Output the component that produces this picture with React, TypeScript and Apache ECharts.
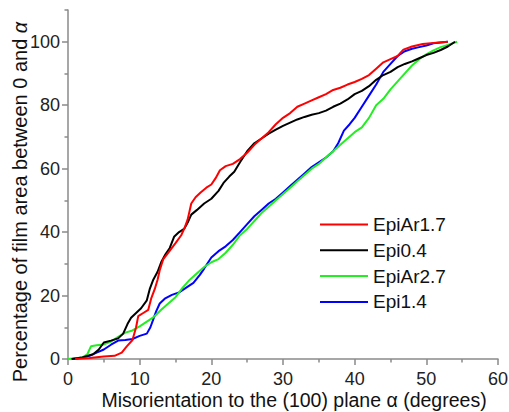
import React, { useEffect, useRef } from "react";
import * as echarts from "echarts";

const seriesNames = ["EpiAr1.7", "Epi0.4", "EpiAr2.7", "Epi1.4"];
const seriesColors = ["#ff0000", "#000000", "#22ee22", "#0000ff"];

const red: [number, number][] = [
  [1, 0], [3, 0.3], [5, 0.8], [6.5, 1], [7.5, 2], [8.2, 4], [9, 6], [9.5, 10], [9.8, 13.5],
  [10.5, 14.5], [11.2, 15.5], [11.6, 19], [12.1, 22], [12.5, 25], [12.8, 28], [13.3, 31.5],
  [14, 33.5], [15, 36.5], [15.8, 39], [16.3, 41.5], [16.7, 44], [17.2, 49], [17.8, 51],
  [18.5, 52.5], [19.3, 54], [20, 55], [20.6, 57], [21.2, 59.5], [22, 60.8], [23, 61.5],
  [24, 63], [25, 65], [26, 67.5], [27, 69.5], [28, 71.5], [29, 74], [30, 76], [31, 77.5],
  [32, 79.5], [33, 80.5], [34, 81.5], [35, 82.5], [36, 83.5], [37, 84.8], [38, 85.5],
  [39, 86.5], [40, 87.3], [41, 88.3], [42, 89.5], [43, 91.5], [44, 93.5], [45, 94.5],
  [46, 95.5], [46.8, 97.5], [48, 98.5], [49.5, 99.3], [51, 99.6], [53, 100],
];

const black: [number, number][] = [
  [0.5, 0], [2, 0.5], [3.5, 1.5], [4.3, 3], [5, 5.2], [6, 5.8], [7, 6.5], [7.7, 8], [8.3, 11],
  [8.8, 13], [9.5, 14.5], [10.2, 16], [11, 18.5], [11.4, 22], [11.9, 25], [12.5, 27.5],
  [13, 30.5], [13.6, 33], [14.2, 35], [14.8, 38.5], [15.5, 40], [16.2, 41], [16.7, 43],
  [17.2, 45.5], [18, 47], [19, 49], [20, 50.5], [21, 53], [21.7, 55.5], [22.5, 57.5],
  [23.2, 59], [24, 62], [25, 65.5], [26, 68], [27, 69.5], [28, 71], [29, 72.3], [30, 73.5],
  [31, 74.5], [32, 75.5], [33, 76.3], [34, 77], [35, 77.5], [36, 78.3], [37, 79.5],
  [38, 80.5], [39, 81.8], [40, 83.5], [41, 84.5], [42, 86], [43, 88], [44, 89.5], [45, 90.5],
  [46, 92], [47, 93], [48, 93.8], [49, 94.8], [50, 95.8], [51, 96.5], [52, 97.4], [53, 98.5],
  [54, 100],
];

const green: [number, number][] = [
  [0, 0], [2, 0.5], [2.7, 1.5], [3.2, 4], [4, 4.3], [5, 4.6], [6, 5.5], [7, 7], [8, 8.3],
  [9, 9], [10, 10.3], [11, 11.8], [12, 13.3], [13, 15.5], [14, 17.5], [15, 19.5], [16, 22.5],
  [17, 25], [18, 27], [19, 29], [20, 30.5], [21, 31.5], [22, 33.5], [23, 36], [24, 39],
  [25, 41], [26, 43.5], [27, 46], [28, 48], [29, 50], [30, 52], [31, 54], [32, 56], [33, 58],
  [34, 60], [35, 61.5], [36, 63.5], [37, 65.5], [38, 67.5], [39, 69.5], [40, 71.5], [41, 73],
  [42, 76], [43, 80], [44, 82], [45, 85], [46, 87.5], [47, 90], [48, 92.5], [49, 94.5],
  [50, 96], [51, 97.3], [52, 98.3], [53, 99], [54.3, 100],
];

const blue: [number, number][] = [
  [0.7, 0], [2, 0.5], [3, 1], [4, 2], [5, 3], [6, 4.5], [7, 5.8], [8, 6], [9, 6.3], [10, 7.3],
  [11, 8], [11.5, 10], [11.9, 12.5], [12.3, 15], [12.8, 17.5], [13.5, 19], [14.5, 20.2],
  [15.5, 21], [16.5, 22.5], [17.5, 24], [18.4, 26.5], [19, 28.5], [20, 32], [21, 34],
  [22, 35.5], [23, 37.5], [24, 40], [25, 42.5], [26, 45], [27, 47], [28, 49], [29, 50.5],
  [30, 52.5], [31, 54.5], [32, 56.5], [33, 58.5], [34, 60.5], [35, 62], [36, 63.5],
  [37, 65.5], [37.7, 68], [38.5, 72], [39.3, 74], [40, 76], [41, 79.5], [42, 83],
  [43, 86.5], [44, 90.5], [45, 93], [46, 95.5], [47, 97], [48, 97.8], [49, 98.3],
  [50, 98.8], [51, 99.5], [53, 100],
];

const seriesData = [red, black, green, blue];

const xMajorTicks = [0, 10, 20, 30, 40, 50, 60];
const yMajorTicks = [0, 20, 40, 60, 80, 100];
const yMinorTicks = [10, 30, 50, 70, 90, 110];

const xTitle = "Misorientation to the (100) plane α (degrees)";
const yTitle = "Percentage of film area between 0 and ";

export default function App() {
  const ref = useRef<HTMLDivElement>(null);
  useEffect(() => {
    if (!ref.current) return;
    const chart = echarts.init(ref.current, undefined, { renderer: "svg" });
    const font = "Liberation Sans, Arial, sans-serif";
    const axisGray = "#8a8a8a";
    chart.setOption({
      animation: false,
      backgroundColor: "#ffffff",
      grid: {
        left: 68,
        right: 11,
        top: 10,
        bottom: 53,
        containLabel: false,
        outerBoundsMode: "none",
      },
      legend: {
        orient: "vertical",
        left: 320,
        top: 215,
        padding: 0,
        itemWidth: 48,
        itemHeight: 14,
        itemGap: 6.8,
        data: seriesNames.map((n, i) => ({
          name: n,
          icon: "path://M0,6.5 L48,6.5 L48,8.5 L0,8.5 Z",
          itemStyle: { color: seriesColors[i] },
        })),
        textStyle: { fontFamily: font, fontSize: 19, color: "#111" },
      },
      xAxis: {
        type: "value",
        min: 0,
        max: 60,
        interval: 10,
        axisLine: { lineStyle: { color: axisGray, width: 1.5 } },
        axisTick: { length: 6, lineStyle: { color: axisGray, width: 1.5 } },
        minorTick: { show: true, splitNumber: 2, length: 3.5, lineStyle: { color: axisGray, width: 1.5 } },
        axisLabel: {
          fontFamily: font,
          fontSize: 18,
          color: "#222",
          margin: 11,
          customValues: xMajorTicks,
        },
        splitLine: { show: false },
      },
      yAxis: [
        {
          type: "value",
          min: 0,
          max: 110,
          interval: 10,
          axisLine: { show: true, lineStyle: { color: axisGray, width: 1.5 } },
          axisTick: { show: true, length: 6, customValues: yMajorTicks, lineStyle: { color: axisGray, width: 1.5 } },
          axisLabel: {
            fontFamily: font,
            fontSize: 18,
            color: "#222",
            margin: 8,
            customValues: yMajorTicks,
          },
          splitLine: { show: false },
        },
        {
          type: "value",
          min: 0,
          max: 110,
          interval: 10,
          position: "left",
          axisLine: { show: false },
          axisTick: { show: true, length: 3.5, customValues: yMinorTicks, lineStyle: { color: axisGray, width: 1.5 } },
          axisLabel: { show: false },
          splitLine: { show: false },
        },
      ],
      graphic: [
        {
          type: "text",
          x: 20,
          y: 202,
          rotation: Math.PI / 2,
          style: {
            text: "{a|" + yTitle + "}{b|α}",
            align: "center",
            verticalAlign: "middle",
            fill: "#111",
            rich: {
              a: { fontFamily: font, fontSize: 20, fill: "#111" },
              b: { fontFamily: font, fontSize: 20, fontStyle: "italic", fill: "#111" },
            },
          },
        },
        {
          type: "text",
          x: 294,
          y: 400,
          style: {
            text: xTitle,
            align: "center",
            verticalAlign: "middle",
            fontFamily: font,
            fontSize: 19.5,
            fill: "#111",
          },
        },
      ],
      series: seriesNames.map((n, i) => ({
        name: n,
        type: "line",
        yAxisIndex: 0,
        data: seriesData[i],
        showSymbol: false,
        symbol: "none",
        lineStyle: { color: seriesColors[i], width: 2 },
        itemStyle: { color: seriesColors[i] },
        z: 10 - i,
      })),
    });
    return () => chart.dispose();
  }, []);
  return (
    <div
      ref={ref}
      style={{ position: "fixed", left: 0, top: 0, width: 509, height: 412 }}
    />
  );
}
